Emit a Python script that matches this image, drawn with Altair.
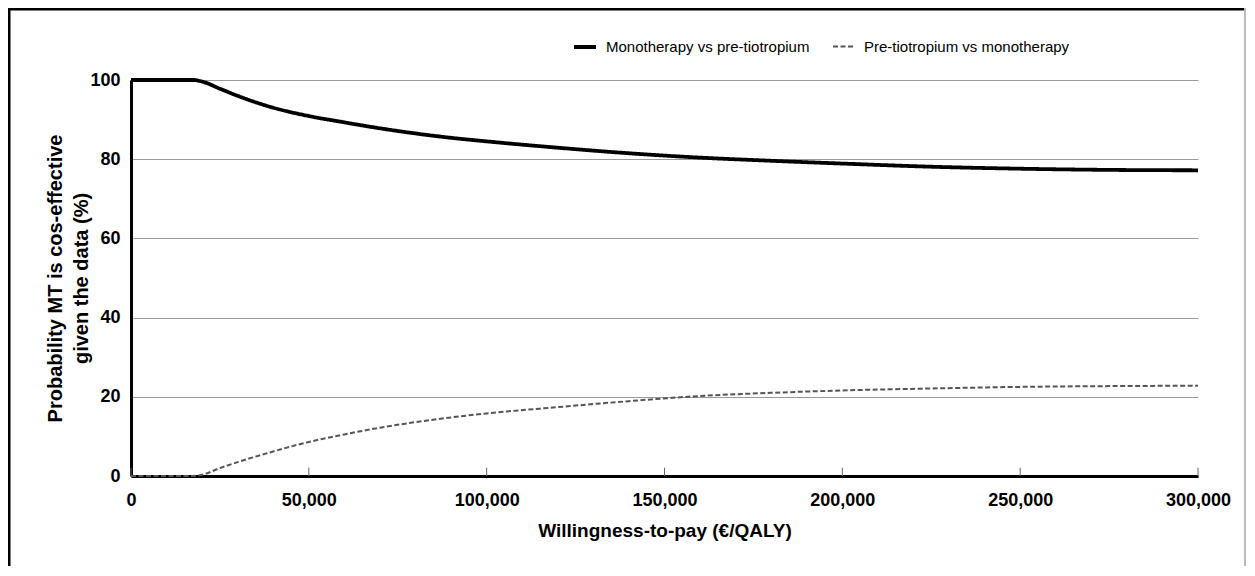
import altair as alt
import pandas as pd

# Willingness-to-pay (EUR/QALY)
wtp = [0, 5000, 10000, 15000, 17500, 20000, 25000, 30000, 40000, 50000, 60000,
       70000, 80000, 90000, 100000, 120000, 140000, 160000, 180000, 200000,
       225000, 250000, 275000, 300000]
# Probability (%) - Monotherapy vs pre-tiotropium
mono = [100, 100, 100, 100, 100, 99.6, 97.8, 96.0, 93.0, 90.9, 89.3,
        87.8, 86.5, 85.4, 84.5, 82.9, 81.5, 80.4, 79.6, 78.9,
        78.1, 77.6, 77.3, 77.2]
# Probability (%) - Pre-tiotropium vs monotherapy
pre = [0, 0, 0, 0, 0, 0.3, 2.0, 3.5, 6.2, 8.6, 10.5,
       12.2, 13.6, 14.8, 15.8, 17.4, 18.9, 20.2, 21.0, 21.6,
       22.1, 22.5, 22.7, 22.8]

series = ["Monotherapy vs pre-tiotropium", "Pre-tiotropium vs monotherapy"]
x_ticks = [0, 50000, 100000, 150000, 200000, 250000, 300000]
y_ticks = [0, 20, 40, 60, 80, 100]

rows = []
for w, a, b in zip(wtp, mono, pre):
    rows.append({"wtp": w, "prob": a, "series": series[0]})
    rows.append({"wtp": w, "prob": b, "series": series[1]})
df = pd.DataFrame(rows)

FONT = "Liberation Sans"

x_axis = alt.Axis(values=x_ticks, format=",.0f", labelFont=FONT, labelFontSize=18,
                  labelFontWeight="bold", labelColor="black", labelPadding=15,
                  labelFlush=False, labelOverlap=False, ticks=False,
                  domainColor="black", domainWidth=3, grid=False,
                  title="Willingness-to-pay (€/QALY)", titleFont=FONT,
                  titleFontSize=19, titleFontWeight="bold", titleColor="black",
                  titlePadding=12)
y_axis = alt.Axis(values=y_ticks, grid=True, gridColor="#9a9a9a", gridWidth=1.2,
                  ticks=False, labelPadding=11, labelFont=FONT, labelFontSize=18,
                  labelFontWeight="bold", labelColor="black",
                  domainColor="black", domainWidth=3,
                  title=["Probability MT is cos-effective", "given the data (%)"],
                  titleFont=FONT, titleFontSize=20, titleFontWeight="bold",
                  titleColor="black", titleAngle=270, titleX=-66, titleY=198,
                  titleAlign="center", titleBaseline="bottom", titleLineHeight=26)

legend = alt.Legend(title=None, orient="none", legendX=441, legendY=-46,
                    direction="horizontal", symbolType="stroke", symbolSize=484,
                    labelFont=FONT, labelFontSize=15, labelColor="black",
                    labelLimit=400, columnPadding=19, labelOffset=8)

x_enc = alt.X("wtp:Q", scale=alt.Scale(domain=[0, 300000], nice=False), axis=x_axis)

lines = alt.Chart(df).mark_line(interpolate="monotone").encode(
    x=x_enc,
    y=alt.Y("prob:Q", scale=alt.Scale(domain=[0, 100], nice=False), axis=y_axis),
    color=alt.Color("series:N", scale=alt.Scale(domain=series, range=["#000000", "#555555"]), legend=legend),
    strokeDash=alt.StrokeDash("series:N", scale=alt.Scale(domain=series, range=[[1, 0], [5, 2.5]]), legend=legend),
    strokeWidth=alt.StrokeWidth("series:N", scale=alt.Scale(domain=series, range=[3.8, 2.0]), legend=legend),
)

tick_df = pd.DataFrame({"wtp": x_ticks})
ticks = alt.Chart(tick_df).mark_rule(color="#666666", strokeWidth=1).encode(
    x=x_enc, y=alt.datum(0), y2=alt.datum(2.1)
)

one = alt.Data(values=[{}])
frame_left = alt.Chart(one).mark_rule(color="black", strokeWidth=3).encode(
    x=alt.value(-122), x2=alt.value(-122), y=alt.value(-72.5), y2=alt.value(520))
frame_top = alt.Chart(one).mark_rule(color="black", strokeWidth=3).encode(
    x=alt.value(-123.5), x2=alt.value(1120), y=alt.value(-71), y2=alt.value(-71))
frame_right = alt.Chart(one).mark_rule(color="#bbbbbb", strokeWidth=2).encode(
    x=alt.value(1114), x2=alt.value(1114), y=alt.value(-72), y2=alt.value(520))

chart = alt.layer(lines, ticks, frame_left, frame_top, frame_right).properties(
    width=1067, height=396,
    padding={"left": 123, "top": 72, "right": 48, "bottom": 90},
    autosize=alt.AutoSizeParams(type="none"),
    background="white",
).configure_view(stroke=None)

chart.save("out.html", embed_options={"renderer": "svg", "actions": False})
